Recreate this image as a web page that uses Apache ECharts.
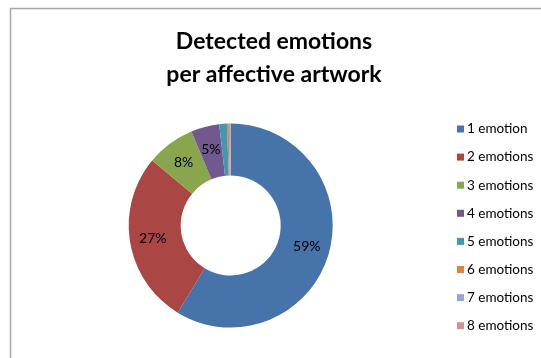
<!DOCTYPE html>
<html>
<head>
<meta charset="utf-8">
<script src="https://cdn.jsdelivr.net/npm/echarts@6/dist/echarts.min.js"></script>
<style>html,body{margin:0;padding:0;background:#fff}#c{width:541px;height:358px}</style>
</head>
<body>
<div id="c"></div>
<script>
var categories = ['1 emotion','2 emotions','3 emotions','4 emotions','5 emotions','6 emotions','7 emotions','8 emotions'];
var values = [58.7, 27.3, 7.7, 4.5, 1.2, 0.3, 0.2, 0.1];
var colors = ['#4673AA','#AA4643','#89A54E','#71588F','#4198AF','#DB843D','#93A9CF','#D19392'];
var labelShown = [true, true, true, true, false, false, false, false];
var titleText = 'Detected emotions\nper affective artwork';

var chart = echarts.init(document.getElementById('c'), null, {renderer:'canvas'});
var data = categories.map(function(c,i){
  return {name:c, value:values[i], label:{show:labelShown[i]}};
});
chart.setOption({
  animation:false,
  color: colors,
  graphic:[{type:'rect', shape:{x:10.5,y:8.5,width:600,height:400}, style:{fill:'none', stroke:'#a6a6a6', lineWidth:1.5}, silent:true}],
  title:{text:titleText, left:269, top:20, textAlign:'center',
    textStyle:{fontFamily:'Lato', fontWeight:'bold', fontSize:23, lineHeight:33, color:'#000'}},
  legend:{orient:'vertical', left:452, top:117, padding:5, itemWidth:7, itemHeight:7, itemGap:14.1,
    icon:'rect', textStyle:{fontFamily:'Lato', fontSize:13.5, lineHeight:14, color:'#000', padding:[0,0,0,-2]}, data:categories},
  series:[{type:'pie', center:[230.7,225.5], radius:[50,102], startAngle:90, clockwise:true,
    avoidLabelOverlap:false, data:data,
    itemStyle:{borderWidth:0},
    label:{position:'inside', formatter:'{d}%', fontFamily:'Lato', fontSize:14, color:'#000'},
    percentPrecision:0,
    labelLine:{show:false}, emphasis:{disabled:true}}]
});
</script>
</body>
</html>
